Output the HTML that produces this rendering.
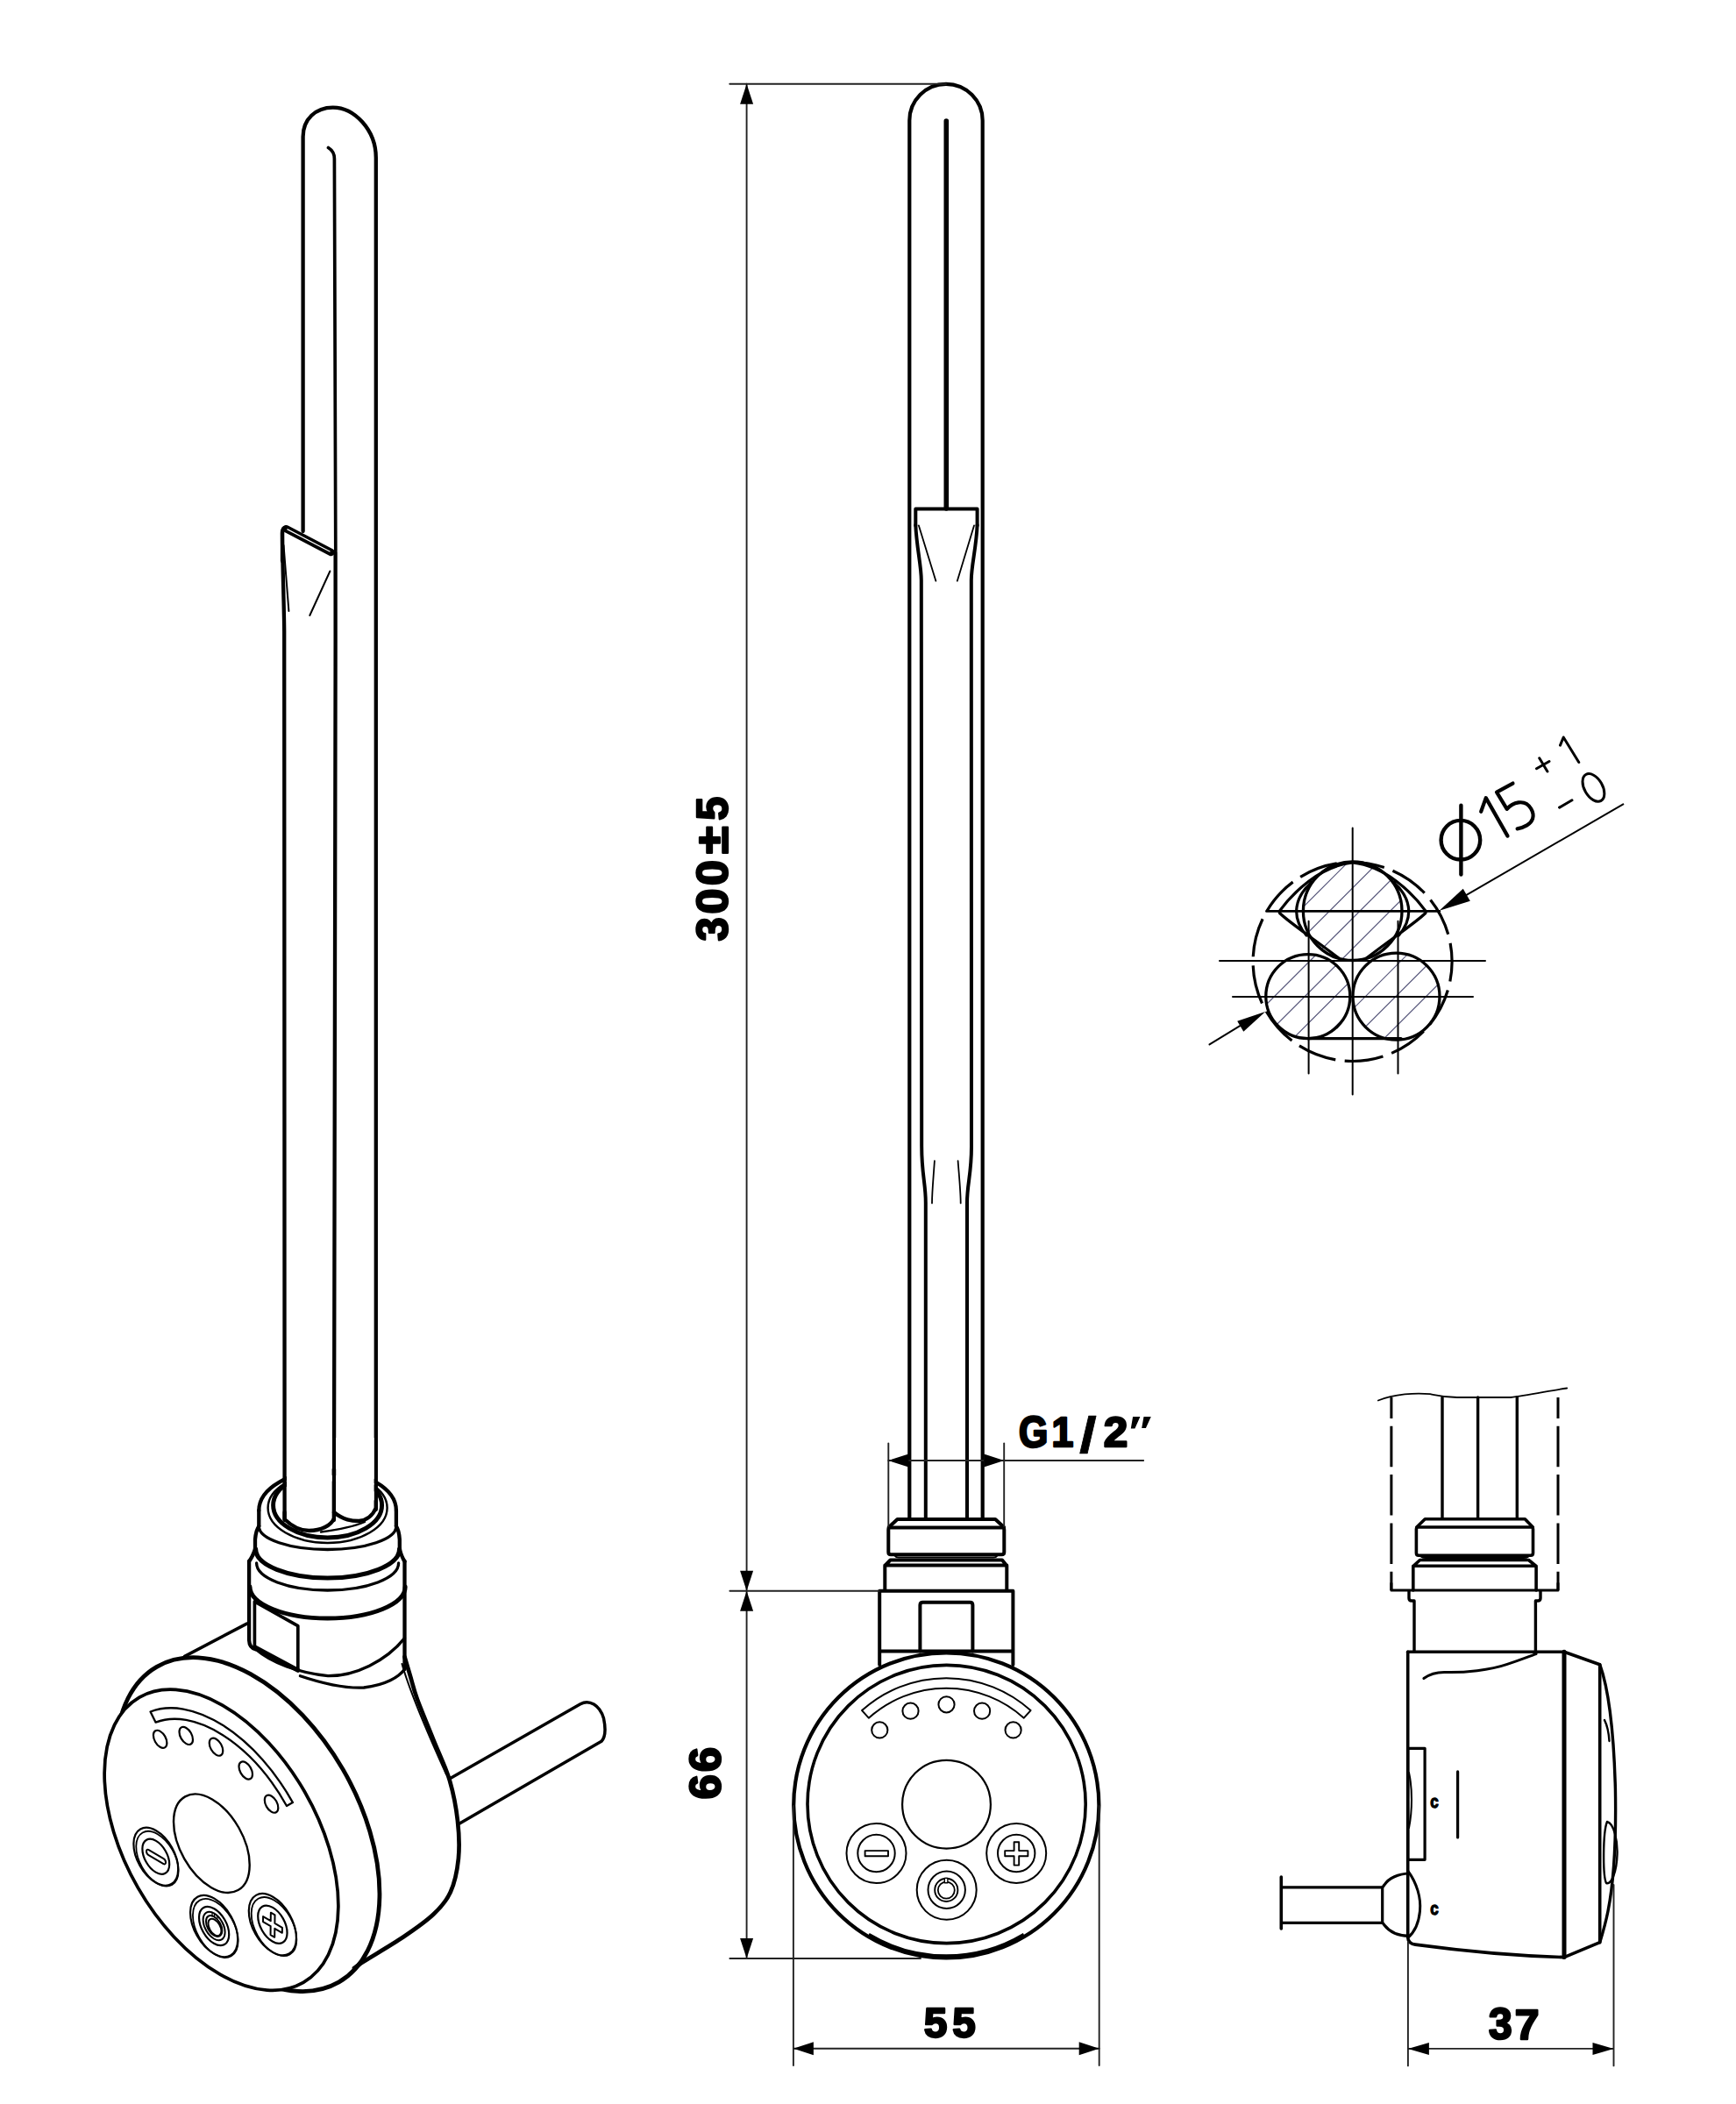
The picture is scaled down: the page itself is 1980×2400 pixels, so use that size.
<!DOCTYPE html>
<html><head><meta charset="utf-8"><style>
html,body{margin:0;padding:0;background:#fff;}
svg{display:block;}
</style></head><body>
<svg xmlns="http://www.w3.org/2000/svg" width="1980" height="2400" viewBox="0 0 1980 2400">
<rect width="1980" height="2400" fill="#fff"/>
<g fill="none" stroke="#000" stroke-linecap="round" stroke-linejoin="round"><path d="M1037.3,1733 L1037.3,137.4 A41.7,41.7 0 0 1 1120.7,137.4 L1120.7,1733" stroke-width="4.2"/><line x1="1079.3" y1="138" x2="1079.3" y2="580" stroke-width="5.6"/><path d="M1044.3,599.4 L1044.3,580.5 L1114.6,580.5 L1114.6,599.4" stroke-width="4.0"/><path d="M1044.3,599 C1045.5,625 1050.8,645 1050.8,662 L1051.2,1307.6 C1051.2,1340 1055.8,1350 1055.8,1372 L1055.8,1733" stroke-width="4.0"/><path d="M1114.6,599 C1113.5,625 1107.8,645 1107.8,662 L1108,1307.6 C1108,1340 1103,1350 1103,1372 L1103,1733" stroke-width="4.0"/><path d="M1047.9,599.4 L1067.4,662.7 M1111,599.4 L1091.8,662.7" stroke-width="1.8"/><path d="M1065.9,1324.2 C1064.5,1345 1063,1360 1063,1372.4 M1092.6,1324.2 C1094.2,1345 1095.7,1360 1095.7,1372.4" stroke-width="1.8"/><path d="M1013.8,1742 L1023.5,1733 L1135.2,1733 L1145,1742" stroke-width="4.0"/><path d="M1015,1742.5 L1143.5,1742.5 Q1145.3,1742.5 1145.3,1745 L1145.3,1770.5 Q1145.3,1773.2 1142.5,1773.2 L1016,1773.2 Q1013.3,1773.2 1013.3,1770.5 L1013.3,1745 Q1013.3,1742.5 1015,1742.5 Z" stroke-width="4.0"/><path d="M1020.5,1774.5 Q1022,1776.6 1025,1776.6 L1133,1776.6 Q1136,1776.6 1137.5,1774.5" stroke-width="2"/><path d="M1009.3,1813.5 L1009.3,1786 L1015.5,1779.5 L1143,1779.5 L1148.3,1786 L1148.3,1813.5 M1009.3,1785.6 L1148.3,1785.6" stroke-width="4.0"/><path d="M1003.2,1899 L1003.2,1814.8 L1155.4,1814.8 L1155.4,1899 M1003.2,1883.5 L1155.4,1883.5" stroke-width="4.0"/><path d="M1049.4,1883.5 L1049.4,1831 Q1049.4,1827.8 1052.5,1827.8 L1106.4,1827.8 Q1109.4,1827.8 1109.4,1831 L1109.4,1883.5" stroke-width="4.0"/><circle cx="1079.3" cy="2059.4" r="174.1" fill="#fff" stroke-width="4.2"/><circle cx="1079.6" cy="2058" r="158.6" stroke-width="3.6"/><path d="M1167.7,2206.5 A171.6,171.6 0 0 1 990.9,2206.5" stroke-width="3.4" stroke-linecap="butt"/><path d="M983.1,1951.1 A143.8,143.8 0 0 1 1175.5,1951.1 L1167.8,1959.7 A132.3,132.3 0 0 0 990.8,1959.7 Z" stroke-width="2.0"/><circle cx="1003.3" cy="1973.4" r="9.1" stroke-width="2.0"/><circle cx="1038.5" cy="1951.7" r="9.1" stroke-width="2.0"/><circle cx="1079.5" cy="1944.3" r="9.1" stroke-width="2.0"/><circle cx="1120.1" cy="1951.7" r="9.1" stroke-width="2.0"/><circle cx="1155.6" cy="1973.4" r="9.1" stroke-width="2.0"/><circle cx="1079.5" cy="2058.2" r="50.4" stroke-width="2.2"/><circle cx="999.5" cy="2114" r="34" stroke-width="2.0"/><circle cx="999.5" cy="2114" r="21.2" stroke-width="2.0"/><circle cx="1159.2" cy="2114" r="34" stroke-width="2.0"/><circle cx="1159.2" cy="2114" r="21.2" stroke-width="2.0"/><circle cx="1079.7" cy="2155.8" r="34" stroke-width="2.0"/><circle cx="1079.7" cy="2155.8" r="21.2" stroke-width="2.0"/><rect x="986.6" y="2111.1" width="26.4" height="6.2" stroke-width="1.9"/><path d="M1156.6,2101.3 L1162.2,2101.3 L1162.2,2111.1 L1172.4,2111.1 L1172.4,2117.3 L1162.2,2117.3 L1162.2,2127.6 L1156.6,2127.6 L1156.6,2117.3 L1146.2,2117.3 L1146.2,2111.1 L1156.6,2111.1 Z" stroke-width="1.9"/><circle cx="1079.3" cy="2155.9" r="13.1" stroke-width="1.9"/><circle cx="1079.3" cy="2156.1" r="9.5" stroke-width="1.8"/><rect x="1077.3" y="2142.4" width="3.6" height="5.4" fill="#fff" stroke-width="1.4"/><line x1="832.3" y1="95.7" x2="1079" y2="95.7" stroke="#222" stroke-width="1.9" /><line x1="851.6" y1="95.7" x2="851.6" y2="2234" stroke="#222" stroke-width="1.9" /><path d="M851.6,95.7 L859.1,118.7 L844.1,118.7 Z" fill="#000" stroke="none"/><path d="M851.6,1814.7 L844.1,1791.7 L859.1,1791.7 Z" fill="#000" stroke="none"/><path d="M851.6,1814.7 L859.1,1837.7 L844.1,1837.7 Z" fill="#000" stroke="none"/><path d="M851.6,2234.0 L844.1,2211.0 L859.1,2211.0 Z" fill="#000" stroke="none"/><line x1="832.4" y1="1814.7" x2="1003" y2="1814.7" stroke="#222" stroke-width="1.9" /><line x1="832.4" y1="2234" x2="1050" y2="2234" stroke="#222" stroke-width="1.9" /><line x1="904.9" y1="2060" x2="904.9" y2="2356" stroke="#222" stroke-width="1.9" /><line x1="1253.7" y1="2060" x2="1253.7" y2="2356" stroke="#222" stroke-width="1.9" /><line x1="904.9" y1="2336.8" x2="1253.7" y2="2336.8" stroke="#222" stroke-width="1.9" /><path d="M904.9,2336.8 L927.9,2329.3 L927.9,2344.3 Z" fill="#000" stroke="none"/><path d="M1253.7,2336.8 L1230.7,2344.3 L1230.7,2329.3 Z" fill="#000" stroke="none"/><line x1="1013.3" y1="1646.5" x2="1013.3" y2="1741" stroke="#222" stroke-width="1.9" /><line x1="1145.2" y1="1646.5" x2="1145.2" y2="1741" stroke="#222" stroke-width="1.9" /><line x1="1013.3" y1="1666" x2="1304.2" y2="1666" stroke="#222" stroke-width="1.9" /><path d="M1013.3,1666.0 L1036.3,1658.5 L1036.3,1673.5 Z" fill="#000" stroke="none"/><path d="M1145.2,1666.0 L1122.2,1673.5 L1122.2,1658.5 Z" fill="#000" stroke="none"/></g>
<g fill="none" stroke="#000" stroke-linecap="round" stroke-linejoin="round"><path d="M345.6,606 L345.6,156 C345.6,136 360,122.6 379.7,122.6 C404,122.6 428.8,148 428.8,180 L428.8,1722" stroke-width="4.3"/><path d="M374.5,168.5 C378.5,171 381.4,174.5 381.4,181 L382.8,628" stroke-width="3.6999999999999997"/><path d="M322,640 L322,608 Q322,602 326,601.5" stroke-width="4.3"/><path d="M326.5,603.3 L377.5,630" stroke="#000" stroke-width="8.6" stroke-linecap="round"/><path d="M327.5,603.6 L376.5,629.2" stroke="#fff" stroke-width="1.2" stroke-linecap="butt"/><path d="M322,606 C322,640 324,690 324.2,720 L324.6,1734" stroke-width="4.3"/><path d="M382.6,630 C382.8,700 382.6,720 382.6,760 L380.9,1734" stroke-width="4.3"/><path d="M323.5,622 C325.5,650 327.5,670 329.4,697 M376.4,651.5 L353.3,702" stroke-width="2.0"/><path d="M284.1,1781 L284.1,1871 Q284.5,1880 291.7,1881.3" stroke-width="4.3"/><path d="M461.5,1781 L461.5,1904" stroke-width="4.3"/><path d="M291.7,1881.3 C310,1897 340,1908 374,1911.7 C405,1912 440,1895 461.5,1868.6" stroke-width="3.3"/><path d="M342.4,1911.7 C370,1921 395,1926 415,1925 C440,1922 455,1913 461.5,1904" stroke-width="3.3"/><path d="M290.4,1878.7 L290.4,1826.8 L339.8,1854.6 L339.8,1905.3" stroke-width="3.6999999999999997"/><path d="M290.4,1878.7 L339.8,1905.3" stroke-width="5.1"/><path d="M462.2,1810.0 A88.6,36 0 0 1 285.0,1810.0" stroke-width="4.8999999999999995"/><path d="M454.6,1783.0 A81,31 0 0 1 292.6,1783.0" stroke-width="3.3"/><path d="M455.6,1767.0 A82,33 0 0 1 291.6,1767.0" stroke-width="5.1"/><path d="M291,1767 L291,1756 Q292,1745 295.3,1741 M455.8,1767 L455.8,1756 Q455,1745 451.9,1741" stroke-width="4.3"/><path d="M291,1767 Q288,1776 284.1,1781 M455.8,1767 Q458,1776 461.5,1781" stroke-width="4.3"/><path d="M451.9,1741.0 A78.3,26.5 0 0 1 295.3,1741.0" stroke-width="3.3"/><path d="M295.3,1741 L295.3,1723 M451.9,1741 L451.9,1723" stroke-width="4.3"/><path d="M295.3,1723.0 A78.3,45.5 0 0 1 451.9,1723.0" stroke-width="4.3"/><ellipse cx="373.6" cy="1720" rx="68" ry="40" stroke-width="2.4"/><ellipse cx="373.6" cy="1717" rx="62" ry="37" stroke-width="4.8999999999999995"/><path d="M327,1640 L327,1733 C335,1743 345,1746 352.4,1746 C366,1746 378,1740 378.6,1734 L378.6,1640 Z" fill="#fff" stroke="none"/><path d="M383.2,1640 L383.2,1728 C392,1734 401,1735 409.4,1735 C418,1734 425,1729 426.6,1722 L426.6,1640 Z" fill="#fff" stroke="none"/><path d="M324.6,1725 L324.6,1733 C335,1743 345,1746 352.4,1746 C366,1746 378,1740 380.9,1732 L380.9,1690" stroke-width="4.3"/><path d="M380.9,1725 C392,1734 401,1735 409.4,1735 C418,1734 425,1729 428.8,1720 L428.8,1712" stroke-width="4.3"/><path d="M366,1747.5 C385,1745 402,1742 416,1736" stroke-width="2.4"/><ellipse cx="282.7" cy="2081.1" rx="125.3" ry="207.7" transform="rotate(-30.04 282.7 2081.1)" stroke-width="4.8"/><path d="M461.5,1890.0 C463.7,1897.3 465.6,1904.0 468.0,1912.0 C470.4,1920.0 471.5,1926.2 475.9,1938.2 C480.3,1950.2 488.2,1968.9 494.3,1984.3 C500.4,1999.7 508.1,2015.0 512.7,2030.4 C517.3,2045.8 520.2,2061.6 521.9,2076.5 C523.6,2091.4 524.2,2106.4 522.9,2120.0 C521.5,2133.6 518.6,2147.7 513.8,2158.3 C509.0,2168.9 503.2,2175.3 494.2,2183.8 C485.2,2192.3 473.2,2200.6 460.0,2209.5 C446.8,2218.4 424.5,2231.3 415.2,2237.2 C405.9,2243.1 407.7,2242.4 404.0,2245.0" stroke-width="4.7"/><path d="M458.5,1898 C466,1925 480,1960 509,2024" stroke-width="2.0"/><path d="M513.6,2028.6 L662,1943.8 C672,1938 684,1945 688.5,1960 C691,1972 690,1982 686,1986.2 L523.8,2080.2" stroke-width="3.5"/><path d="M210.6,1889.4 L281.5,1852.1" stroke-width="3.5"/><ellipse cx="252.5" cy="2098.7" rx="109.7" ry="187.6" transform="rotate(-29.9 252.5 2098.7)" fill="#fff" stroke-width="3.6999999999999997"/><g transform="matrix(0.8333 0.4849 -0.0120 0.9657 -629.72 -408.39)"><path d="M989.6,1947.8 A143.8,143.8 0 0 1 1184.6,1957.2 L1176.4,1965.3 A132.3,132.3 0 0 0 997.0,1956.7 Z" stroke-width="2.3" vector-effect="non-scaling-stroke"/><circle cx="1003.3" cy="1973.4" r="9.3" stroke-width="2.2" vector-effect="non-scaling-stroke"/><circle cx="1038.5" cy="1951.7" r="9.3" stroke-width="2.2" vector-effect="non-scaling-stroke"/><circle cx="1079.5" cy="1944.3" r="9.3" stroke-width="2.2" vector-effect="non-scaling-stroke"/><circle cx="1120.1" cy="1951.7" r="9.3" stroke-width="2.2" vector-effect="non-scaling-stroke"/><circle cx="1155.6" cy="1973.4" r="9.3" stroke-width="2.2" vector-effect="non-scaling-stroke"/><circle cx="1075" cy="2060.5" r="52" stroke-width="2.4" vector-effect="non-scaling-stroke"/><circle cx="999.5" cy="2114" r="30.5" stroke-width="2.2" vector-effect="non-scaling-stroke"/><circle cx="1001.5" cy="2115.5" r="29.0" stroke-width="1.8" vector-effect="non-scaling-stroke"/><circle cx="999.5" cy="2114" r="18.5" stroke-width="2.2" vector-effect="non-scaling-stroke"/><circle cx="1159.2" cy="2114" r="32.5" stroke-width="2.2" vector-effect="non-scaling-stroke"/><circle cx="1161.2" cy="2115.5" r="31.0" stroke-width="1.8" vector-effect="non-scaling-stroke"/><circle cx="1159.2" cy="2114" r="20" stroke-width="2.2" vector-effect="non-scaling-stroke"/><circle cx="1079.7" cy="2155.8" r="32.5" stroke-width="2.2" vector-effect="non-scaling-stroke"/><circle cx="1081.7" cy="2157.3" r="31.0" stroke-width="1.8" vector-effect="non-scaling-stroke"/><circle cx="1079.7" cy="2155.8" r="20.5" stroke-width="2.2" vector-effect="non-scaling-stroke"/><rect x="986.6" y="2111.1" width="26.4" height="6.2" rx="3" stroke-width="2.0" vector-effect="non-scaling-stroke"/><path d="M1156.6,2101.3 L1162.2,2101.3 L1162.2,2111.1 L1172.4,2111.1 L1172.4,2117.3 L1162.2,2117.3 L1162.2,2127.6 L1156.6,2127.6 L1156.6,2117.3 L1146.2,2117.3 L1146.2,2111.1 L1156.6,2111.1 Z" stroke-width="2.0" vector-effect="non-scaling-stroke"/><circle cx="1079.7" cy="2155.8" r="15" stroke-width="2.0" vector-effect="non-scaling-stroke"/><circle cx="1079.7" cy="2155.8" r="11" stroke-width="2.0" vector-effect="non-scaling-stroke"/><circle cx="1080.7" cy="2156.8" r="9" stroke-width="2.0" vector-effect="non-scaling-stroke"/><path d="M1077,2141 L1077,2146 M1080,2140.5 L1080,2145 M1083,2141 L1084.5,2144" stroke-width="1.2" vector-effect="non-scaling-stroke"/></g></g>
<g fill="none" stroke="#000" stroke-linecap="round" stroke-linejoin="round"><defs><clipPath id="hc"><circle cx="1542.7" cy="1039.2" r="56.3"/><circle cx="1491.8" cy="1136.6" r="48"/><circle cx="1592.5" cy="1136.6" r="49.5"/></clipPath></defs><path d="M845.8,1260 L1145.8,960 M880.4,1260 L1180.4,960 M915.0,1260 L1215.0,960 M949.6,1260 L1249.6,960 M984.2,1260 L1284.2,960 M1018.8,1260 L1318.8,960 M1053.4,1260 L1353.4,960 M1088.0,1260 L1388.0,960 M1122.6,1260 L1422.6,960 M1157.2,1260 L1457.2,960 M1191.8,1260 L1491.8,960 M1226.4,1260 L1526.4,960 M1261.0,1260 L1561.0,960 M1295.6,1260 L1595.6,960 M1330.2,1260 L1630.2,960 M1364.8,1260 L1664.8,960 M1399.4,1260 L1699.4,960 M1434.0,1260 L1734.0,960 M1468.6,1260 L1768.6,960 M1503.2,1260 L1803.2,960 M1537.8,1260 L1837.8,960 M1572.4,1260 L1872.4,960 M1607.0,1260 L1907.0,960 M1641.6,1260 L1941.6,960 M1676.2,1260 L1976.2,960 M1710.8,1260 L2010.8,960" stroke="#56567a" stroke-width="1.2" clip-path="url(#hc)"/><circle cx="1542.6" cy="1097" r="113.5" stroke-width="3.2" stroke-dasharray="44.5 10.35" stroke-dashoffset="21.85" stroke-linecap="butt"/><circle cx="1542.7" cy="1039.2" r="56.3" stroke-width="3.3"/><circle cx="1491.8" cy="1136.6" r="48" stroke-width="3.3"/><circle cx="1592.5" cy="1136.6" r="49.5" stroke-width="3.3"/><path d="M1491.7,1184.6 L1598,1184.6" stroke-width="3.3"/><path d="M1459,1039.6 C1475,1018 1505,988 1542.7,983.9 M1459.5,1041.5 C1470,1052 1500,1072 1527,1093 M1495.8,1006.7 C1478,1022 1471,1045 1490,1067 " stroke-width="3.2"/><path d="M1459,1039.6 C1475,1018 1505,988 1542.7,983.9 M1459.5,1041.5 C1470,1052 1500,1072 1527,1093 M1495.8,1006.7 C1478,1022 1471,1045 1490,1067 " stroke-width="3.2" transform="translate(3085.4,0) scale(-1,1)"/><path d="M1542.7,944.4 L1542.7,1248.5 M1492.6,1050.7 L1492.6,1224.5 M1594.5,1050.7 L1594.5,1224.5 M1391,1096 L1694,1096 M1406,1137 L1680,1137" stroke-width="2"/><path d="M1444.5,1039.4 L1641.8,1039.4" stroke-width="2.8"/><path d="M1379.5,1191.4 L1420,1166.6 M1670,1022.4 L1851.3,917.4" stroke-width="2"/><path d="M1443.2,1154.1 L1418.3,1176.8 L1411.2,1164.7 Z" fill="#000" stroke="none"/><path d="M1641.6,1038.8 L1668.7,1013.8 L1676.8,1027.7 Z" fill="#000" stroke="none"/><circle cx="1665.9" cy="958.2" r="22.3" stroke-width="4.4"/><path d="M1666.4,918.8 L1666.4,997.6" stroke-width="4.4"/><g transform="translate(1718.8,954) rotate(-30)"><path d="M-11.5,-39.3 L1.1,-50 L0.8,0 M36,-49 L15,-49.5 L15.5,-27 C24,-30 39.5,-28 39.5,-13.5 C39.5,-3.5 33,0.5 26,0.5 C21,0.5 17,-0.5 14.5,-1.5 " stroke-width="4.2"/><path d="M67.8,-50 L84.5,-50 M76.6,-58.8 L76.9,-41 M104.5,-59.6 L112.3,-65.7 L113.2,-32.2 M68.2,1.4 L84.8,1.4" stroke-width="3"/><ellipse cx="113.2" cy="1.2" rx="10.3" ry="17.3" stroke-width="3"/></g><path d="M1571.9,1597.5 C1590,1590 1615,1588.5 1631.1,1590.2 C1640,1592 1645,1594 1662,1594 L1723,1594 C1740,1592 1770,1586 1787.2,1583.5" stroke-width="1.8"/><path d="M1586.9,1594 L1586.9,1814 M1777,1594 L1777,1814" stroke-width="3" stroke-dasharray="46.5 8.8" stroke-dashoffset="22.5" stroke-linecap="butt"/><path d="M1586.9,1806 L1586.9,1814 L1777,1814 L1777,1806" stroke-width="3"/><path d="M1645,1594 L1645,1732.3 M1685.6,1594 L1685.6,1732.3 M1730.3,1594 L1730.3,1732.3" stroke-width="3.4"/><path d="M1615.8,1742 L1625.3,1732.8 L1739.3,1732.8 L1748.3,1742" stroke-width="3.6"/><path d="M1617.5,1742 L1746.5,1742 Q1748.5,1742 1748.5,1744.5 L1748.5,1771.5 Q1748.5,1774.2 1745.8,1774.2 L1618,1774.2 Q1615.4,1774.2 1615.4,1771.5 L1615.4,1744.5 Q1615.4,1742 1617.5,1742 Z" stroke-width="3.6"/><path d="M1621,1775.5 Q1623,1777 1626,1777 L1738,1777 Q1741,1777 1743,1775.5" stroke-width="2.2"/><path d="M1611.8,1814 L1611.8,1786.5 L1619.5,1779.5 L1743.5,1779.5 L1752.1,1786.5 L1752.1,1814 M1611.8,1786.3 L1752.1,1786.3" stroke-width="3.6"/><path d="M1607,1815 L1607,1823 Q1607,1826 1610,1826 L1613,1826 L1613,1884 M1757,1815 L1757,1823 Q1757,1826 1754,1826 L1751.4,1826 L1751.4,1884" stroke-width="3.4"/><path d="M1605.7,1884.2 L1784,1884.2" stroke-width="3.6"/><path d="M1605.7,1884.2 L1605.7,2210 Q1606,2217 1614.2,2218.1 C1680,2227 1730,2231 1784,2232.6" stroke-width="3.6"/><path d="M1784,1884.2 L1784,2232.6" stroke-width="5"/><path d="M1784,1884.2 L1824.7,1898.7 L1824.7,2215.7 L1784,2232.6" stroke-width="3.6"/><path d="M1824.7,1898.7 C1836,1930 1841,1990 1842.4,2040 C1843.5,2100 1840,2150 1834,2180 C1831,2195 1828,2205 1824.7,2215.7" stroke-width="3.4"/><path d="M1830,1962 C1833,1968 1835,1978 1835.5,1986 M1833,2078 C1841,2080 1845,2100 1844.5,2115 C1844,2135 1838,2150 1832,2148 C1828,2140 1828,2090 1833,2078 Z" stroke-width="2.4"/><path d="M1623.9,1914.5 C1630,1910 1640,1907 1650,1907.5 C1670,1908 1700,1905 1718.3,1898.7 C1735,1893 1745,1889 1752.1,1886.6" stroke-width="3"/><rect x="1605.7" y="1994.3" width="19.4" height="127" stroke-width="3.2"/><path d="M1607,2022 C1611,2040 1611,2065 1607,2085" stroke-width="2"/><path d="M1662.6,2020.9 L1662.6,2095.9" stroke-width="3.2"/><path d="M1607,2137 C1595,2137.5 1584,2142 1579,2150 L1576.7,2153 L1576.7,2193 L1579,2196 C1585,2204 1595,2208 1607,2208.4" stroke-width="3.2"/><path d="M1606,2134.5 C1616,2148 1621,2165 1619.5,2180 C1618,2195 1612,2205 1606,2210" stroke-width="3"/><path d="M1461.8,2152.8 L1576.7,2152.8 M1461.8,2193.4 L1576.7,2193.4" stroke-width="3.2"/><path d="M1461.3,2141 L1461.3,2200" stroke-width="3.6"/><path d="M1605.9,2215 L1605.9,2356.4 M1840.5,2150 L1840.5,2356.4 M1605.9,2336.9 L1840.5,2336.9" stroke="#222" stroke-width="1.9"/><path d="M1605.9,2336.9 L1629.9,2329.9 L1629.9,2343.9 Z" fill="#000" stroke="none"/><path d="M1840.5,2336.9 L1816.5,2343.9 L1816.5,2329.9 Z" fill="#000" stroke="none"/></g>
<g font-family="Liberation Sans, sans-serif" font-weight="bold" fill="#000"><text transform="rotate(-90) matrix(0.48889 0 0 0.50282 -1073.42 830.40)" font-size="100" stroke="#000" stroke-width="4.84" stroke-linejoin="round">3</text><text transform="rotate(-90) matrix(0.52000 0 0 0.50282 -1042.38 830.40)" font-size="100" stroke="#000" stroke-width="4.69" stroke-linejoin="round">0</text><text transform="rotate(-90) matrix(0.52000 0 0 0.50282 -1009.98 830.40)" font-size="100" stroke="#000" stroke-width="4.69" stroke-linejoin="round">0</text><text transform="rotate(-90) matrix(0.58000 0 0 0.52581 -974.35 829.90)" font-size="100" stroke="#000" stroke-width="4.34" stroke-linejoin="round">±</text><text transform="rotate(-90) matrix(0.48500 0 0 0.50429 -935.65 830.40)" font-size="100" stroke="#000" stroke-width="4.85" stroke-linejoin="round">5</text><text transform="rotate(-90) matrix(0.51134 0 0 0.49155 -2052.49 822.01)" font-size="100" stroke="#000" stroke-width="4.79" stroke-linejoin="round">6</text><text transform="rotate(-90) matrix(0.51134 0 0 0.49155 -2021.29 822.01)" font-size="100" stroke="#000" stroke-width="4.79" stroke-linejoin="round">6</text><text transform="matrix(0.47800 0 0 0.48857 1053.77 2323.91)" font-size="100" stroke="#000" stroke-width="4.97" stroke-linejoin="round">5</text><text transform="matrix(0.47600 0 0 0.48857 1086.27 2323.91)" font-size="100" stroke="#000" stroke-width="4.98" stroke-linejoin="round">5</text><text transform="matrix(0.48081 0 0 0.49859 1698.10 2326.20)" font-size="100" stroke="#000" stroke-width="4.90" stroke-linejoin="round">3</text><text transform="matrix(0.49892 0 0 0.48551 1727.85 2325.70)" font-size="100" stroke="#000" stroke-width="4.88" stroke-linejoin="round">7</text><text transform="matrix(0.42815 0 0 0.49296 1162.09 1651.21)" font-size="100" stroke="#000" stroke-width="5.21" stroke-linejoin="round">G</text><text transform="matrix(0.44516 0 0 0.47971 1199.61 1650.30)" font-size="100" stroke="#000" stroke-width="5.19" stroke-linejoin="round">1</text><text transform="matrix(0.71154 0 0 0.57047 1230.99 1657.26)" font-size="100" stroke="#000" stroke-width="1.25" stroke-linejoin="round">/</text><text transform="matrix(0.49583 0 0 0.48000 1258.86 1650.30)" font-size="100" stroke="#000" stroke-width="4.92" stroke-linejoin="round">2</text><text transform="matrix(0.17113 0 0 0.21091 1631.22 2062.19)" font-size="100" stroke="#000" stroke-width="6.28" stroke-linejoin="round">c</text><text transform="matrix(0.17113 0 0 0.21091 1631.22 2184.39)" font-size="100" stroke="#000" stroke-width="6.28" stroke-linejoin="round">c</text></g><path d="M1292.1,1616 L1300.4,1616 L1294.4,1629.4 L1289.8,1629.4 Z M1304.5,1616 L1312.8,1616 L1306.9,1628.9 L1302.2,1628.9 Z" fill="#000"/>
</svg>
</body></html>
